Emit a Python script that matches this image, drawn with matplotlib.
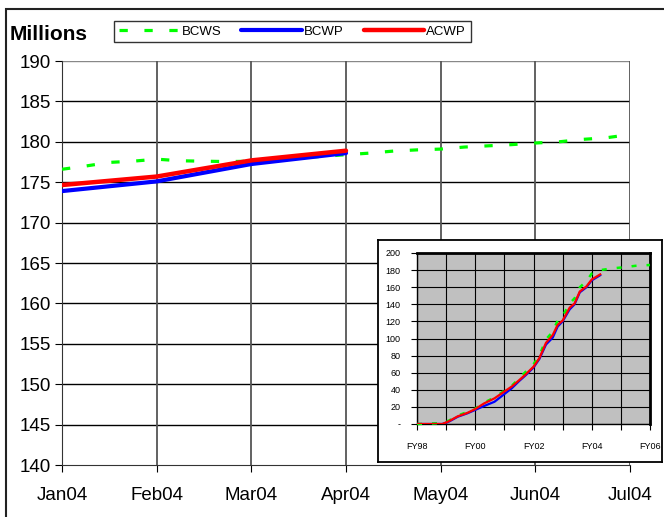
import matplotlib
matplotlib.use("Agg")
import matplotlib.pyplot as plt
from matplotlib.patches import Rectangle
import numpy as np

plt.rcParams['font.family'] = ['Liberation Sans', 'DejaVu Sans']

# ---- main chart data ----
months = ["Jan04", "Feb04", "Mar04", "Apr04", "May04", "Jun04", "Jul04"]
bcws_x = [0, 0.25, 0.5, 0.75, 1.0, 1.25, 1.5, 1.75, 2.0, 2.25, 2.5, 2.75, 3.0,
          3.25, 3.5, 3.75, 4.0, 4.25, 4.5, 4.75, 5.0, 5.25, 5.5, 5.75, 6.0]
bcws_y = [176.6, 177.0, 177.45, 177.6, 177.85, 177.65, 177.6, 177.55, 177.6,
          177.8, 178.0, 178.2, 178.4, 178.6, 178.85, 179.0, 179.1, 179.35,
          179.5, 179.65, 179.85, 180.0, 180.3, 180.5, 180.9]
perf_x = [0, 1, 2, 3]
bcwp_y = [173.9, 175.1, 177.25, 178.6]
acwp_y = [174.65, 175.7, 177.7, 178.9]
y_ticks = [140, 145, 150, 155, 160, 165, 170, 175, 180, 185, 190]

# ---- inset data (fiscal years) ----
in_x = [1998.0, 1998.87, 1999.08, 1999.4, 1999.73, 2000.0, 2000.3, 2000.66,
        2001.0, 2001.26, 2001.5, 2001.73, 2002.0, 2002.2, 2002.43, 2002.66,
        2002.83, 2003.0, 2003.24, 2003.41, 2003.59, 2003.82, 2004.0, 2004.29]
in_acwp = [0, 0, 3, 9, 13, 17.5, 24, 30, 38, 44, 51, 58, 67, 77, 95, 104,
           116, 121, 136, 141, 155, 161, 169, 175]
in_bcwp = [0, 0, 2.5, 8.5, 12.5, 16.5, 21, 26, 35, 42, 50, 57, 66, 76, 93,
           101, 114, 120, 134, 140, 154, 160, 168, 174]
in_bcws_x = [1998.0, 1998.8, 1999.1, 1999.4, 1999.73, 2000.0, 2000.3, 2000.66,
             2001.0, 2001.26, 2001.5, 2001.73, 2002.0, 2002.2, 2002.43, 2002.66,
             2002.83, 2003.0, 2003.24, 2003.41, 2003.59, 2003.82, 2004.0,
             2004.29, 2004.7, 2005.0, 2005.5, 2006.0]
in_bcws_y = [0, 1, 4, 10, 14, 18, 25, 31, 39, 45, 53, 61, 70, 80, 99, 108,
             121, 126, 141, 147, 160, 167, 176, 180, 182, 183, 185, 186]
fy_labels = ["FY98", "", "FY00", "", "FY02", "", "FY04", "", "FY06"]
in_y_ticks = [0, 20, 40, 60, 80, 100, 120, 140, 160, 180, 200]
in_y_labels = ["-", "20", "40", "60", "80", "100", "120", "140", "160", "180", "200"]

W, H = 664, 517
fig = plt.figure(figsize=(W / 100, H / 100), dpi=100)

def fx(px):
    return px / W

def fy(py):
    return 1 - py / H

# figure border (top and left visible)
fig.patches.append(Rectangle((fx(6), fy(600)), 2.0, fy(9) - fy(600),
                             transform=fig.transFigure, fill=False,
                             edgecolor='#222222', lw=1.5, clip_on=False))

ax = fig.add_axes([fx(62), fy(465), fx(630) - fx(62), fy(61) - fy(465)])
ax.set_xlim(0, 6)
ax.set_ylim(140, 190)
ax.set_yticks(y_ticks)
ax.set_xticks(range(len(months)))
ax.set_xticklabels(months)
for s in ['top', 'right']:
    ax.spines[s].set_visible(False)
ax.spines['left'].set_color('#333333')
ax.spines['bottom'].set_color('#333333')
ax.tick_params(axis='y', labelsize=13.5, length=5, direction='out', pad=3)
ax.tick_params(axis='x', labelsize=13.5, length=5, direction='out', pad=11)
for v in y_ticks[1:-1]:
    ax.axhline(v, color='black', lw=1.0, zorder=0)
ax.axhline(190, color='#888888', lw=1.0, zorder=0)
for i in range(1, len(months)):
    ax.axvline(i, color='#555555', lw=1.3, zorder=0)

l1, = ax.plot(bcws_x, bcws_y, color='#00ff00', lw=2.3,
              linestyle=(0, (2.6, 5.2)), label='BCWS', zorder=3)
l2, = ax.plot(perf_x, bcwp_y, color='#0000ff', lw=3.0, label='BCWP', zorder=4,
              solid_capstyle='round')
l3, = ax.plot(perf_x, acwp_y, color='#ff0000', lw=3.2, label='ACWP', zorder=5,
              solid_capstyle='round')

fig.text(fx(10), fy(34), "Millions", fontsize=15, fontweight='bold',
         va='center', ha='left')

leg = fig.legend(handles=[l1, l2, l3], loc='center',
                 bbox_to_anchor=(fx(292.5), fy(31.5)), ncol=3, fontsize=9.5,
                 frameon=True, fancybox=False, edgecolor='black',
                 handlelength=4.6, handletextpad=0.15, columnspacing=1.5,
                 borderpad=0.35)
leg.get_frame().set_linewidth(1.0)

# ---- inset ----
bg = fig.add_axes([fx(378), fy(462), fx(662) - fx(378), fy(240) - fy(462)])
bg.set_xticks([])
bg.set_yticks([])
bg.set_facecolor('white')
for s in bg.spines.values():
    s.set_color('black')
    s.set_linewidth(1.3)
bg.set_zorder(5)

ia = fig.add_axes([fx(417), fy(424), fx(650) - fx(417), fy(253) - fy(424)])
ia.set_zorder(6)
ia.set_facecolor('#c0c0c0')
ia.set_xlim(1998, 2006)
ia.set_ylim(0, 200)
ia.set_xticks(range(1998, 2007))
ia.set_xticklabels(fy_labels)
ia.set_yticks(in_y_ticks)
ia.set_yticklabels(in_y_labels)
ia.tick_params(labelsize=6.5, length=4, width=0.8, colors='black')
ia.tick_params(axis='x', pad=9)
ia.tick_params(axis='y', pad=8)
ia.grid(True, color='black', lw=0.8)
ia.set_axisbelow(True)
for s in ia.spines.values():
    s.set_color('black')
ia.spines['top'].set_linewidth(2.0)
ia.spines['right'].set_linewidth(2.0)
ia.spines['left'].set_linewidth(1.0)
ia.spines['bottom'].set_linewidth(1.0)
ia.plot(in_bcws_x, in_bcws_y, color='#00ff00', lw=1.8,
        linestyle=(0, (2.0, 4.0)), zorder=3, clip_on=False)
ia.plot(in_x, in_bcwp, color='#0000ff', lw=1.6, zorder=4)
ia.plot(in_x, in_acwp, color='#ff0000', lw=1.6, zorder=5)

fig.savefig("out.png", dpi=100)
